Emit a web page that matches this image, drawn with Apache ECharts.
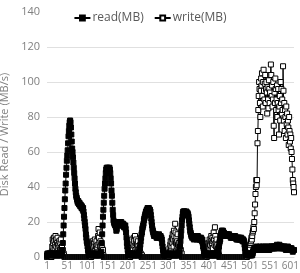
<!DOCTYPE html>
<html>
<head>
<meta charset="utf-8">
<script src="https://cdn.jsdelivr.net/npm/echarts@6/dist/echarts.min.js"></script>
<style>
	html, body {margin: 0; padding: 0; background: #fff;}
	#disk_io {width: 300px; height: 273px;}
</style>
</head>
<body>
<div id="disk_io"></div>
<script>
// disk throughput per sample
const readMB = [
	1,2,1,1,2,1,2,2,1,1, 2,1,1,2,2,1,1,2,1,1, 2,1,2,1,1,2,1,1,2,1, 1,2,1,2,1,1,2,
	2,4,8,13,18,23,28,33,38,42, 47,51,55,58,61,65,69,72,75,77, 78,
	77,74,70,66,62,60,57,54,51,48, 45,42,39,37,35,34,33,
	32,31,32,31,30,31,30,29,30,29, 28,29,28,27,28,26,24,
	22,20,18,16,13,11,9,8,6,4, 3,2,1,1,
	1,1,2,1,1,2,1,1,1,2, 1,1,2,1,1,1,2,1,1,2, 1,1,1,2,1,1,2,1,
	3,8,13,18,23,27,31,35,39,42, 45,48,50,
	51,50,51,50,51,50,49,51,50,48,
	45,42,38,35,31,27,24,21,
	20,19,20,18,19,17,15,16,18,19, 20,19,20,19,20,19,18,19,20,19, 18,19,18,19,18,17,18,17,18,16,
	14,11,8,6,4,2,1,1,
	1,2,1,1,2,1,1,1,2,1, 1,2,1,1,1,2,1,1,2,1, 1,1,2,1,
	2,3,5,7,9,11,13,14,16,17, 18,19,21,22,23,24,25,26,26,27, 27,
	28,27,27,28,27,26,27,26,
	24,22,20,18,16,15,14,13,
	12,13,12,12,13,12,11,12,12,11, 12,12,13,12,11,12,12,11,11,10,
	8,6,4,3,2,1,1,
	1,2,1,1,2,1,1,1,2,1, 1,2,1,1,1,2,1,1,2,1, 1,1,2,1,1,2,1,1,1,2, 1,1,2,1,1,2,
	3,6,9,12,15,18,21,23,25,
	26,26,25,26,26,25,24,25,26,25, 24,25,24,23,
	21,19,17,15,14,13,12,
	12,11,12,12,11,10,11,12,12,11, 12,11,10,11,11,12,11,10,11,10, 11,10,10,11,10,9,10,
	8,6,5,3,2,1,1,1,
	1,2,1,1,2,1,1,1,2,1, 1,2,1,1,1,2,1,1,2,1, 1,1,2,1,1,2,1,1,1,
	2,3,5,6,8,9,10,12,13,14, 15,
	15,14,15,14,14,13,13,12,
	13,12,13,12,12,13,12,12,12,13, 12,12,12,11,12,12,11,12,11,11, 12,11,11,11,12,11,11,10,11,11,
	10,11,11,10,11,10,11,10,10,11, 10,10,9,10,10,9,9,
	7,5,3,2,1,
	1,1,2,1,1,1,2,1,1,2, 1,1,1,2,1,2,
	3,4,4,5,4,5,5,4,5,6, 5,4,5,5,4,5,5,6,5,5, 4,5,5,5,6,5,4,5,5,5, 6,5,5,4,5,5,6,5,5,5,
	4,5,6,5,5,5,6,6,5,5, 6,5,5,6,5,6,6,5,6,7, 6,6,5,6,6,7,6,5,6,6, 5,6,6,5,5,6,5,5,6,5,
	5,4,5,5,4,5,6,5,5,4, 5,4,5,4,4,5,4,4,3,4, 4,4
]

const writeMB = [
	0,0,0,0,0,0,0,0,0,0, 0,0,
	3,6,10,8,5,11,9,4,7,12, 10,6,3,8,11,7,5,2,9,6, 4,8,10,5,3,6,2,4,1,2, 1,
	0,0,0,0,0,0,0,0,0,0, 0,0,0,0,0,0,0,0,0,0, 0,0,0,0,0,0,0,0,0,0, 0,0,0,0,0,0,0,0,0,0,
	0,0,0,0,0,0,0,0,0,0, 0,0,0,0,0,0,0,0,0,0, 0,0,0,0,0,0,0,
	2,4,7,9,5,3,8,6,10,4, 2,6,9,5,3,7,12,16,11,8, 14,6,9,4,7,3,5,2,4,1, 0,
	0,0,0,0,0,0,0,0,0,0, 0,0,0,0,0,0,0,0,0,0, 0,0,0,0,0,0,0,0,0,0, 0,0,0,0,0,0,0,0,0,0,
	0,0,0,0,0,0,0,0,0,0, 0,0,0,0,0,0,0,0,0,0, 0,0,0,0,0,
	3,6,4,8,10,5,2,7,11,9, 6,12,4,8,10,5,7,3,9,6, 4,2,5,3,1,2,1,0,1,0,
	0,0,0,0,0,0,0,0,0,0, 0,0,0,0,0,0,0,0,0,0, 0,0,0,0,0,0,0,0,0,0, 0,0,0,0,0,0,0,0,0,0,
	0,0,0,0,0,0,0,0,0,0, 0,0,0,0,0,0,0,0,0,0, 0,0,0,0,0,
	2,5,3,7,9,4,6,11,8,13, 10,6,15,12,9,19,14,8,11,6, 9,13,7,4,8,5,3,6,2,4, 1,2,0,
	0,0,0,0,0,0,0,0,0,0, 0,0,0,0,0,0,0,0,0,0, 0,0,0,0,0,0,0,0,0,0, 0,0,0,0,0,0,0,0,0,0,
	0,0,0,0,0,0,0,0,0,0, 0,0,0,0,0,0,0,0,0,0, 0,
	2,4,6,3,8,5,10,7,4,9, 12,6,8,11,5,9,14,10,7,17, 12,8,6,10,4,7,3,5,2,1, 0,
	0,0,0,0,0,0,0,0,0,0, 0,0,0,0,0,0,0,0,0,0, 0,0,0,0,0,0,0,0,0,0, 0,0,0,0,0,0,0,0,0,0,
	0,0,0,0,0,0,0,0,0,0, 0,0,0,0,0,0,0,0,0,0, 0,0,0,0,0,0,0,0,
	1,2,3,4,5,6,5,7,8,9, 11,10,12,14,15,17,16,20,25,30, 36,40,44,41,
	44,65,72,84,92,100,96,88,80,95, 102,
	98,105,92,86,100,107,95,90,99,104, 88,96,
	100,94,82,97,90,85,101,96,88,94, 104,110,
	104,92,98,86,90,100,75,68,94,88, 102,96,84,
	90,98,80,88,96,84,70,86,92,78, 100,88,
	96,82,90,84,109,95,78,88,72,84, 80,68,86,
	76,82,70,78,74,64,80,72,66,70, 62,68,
	60,56,50,44,42,40,37
]

const yTicks = {min: 0, max: 140, step: 20}
const labelStep = 50
const categories = readMB.map((_, i) => String(i + 1))

const chartDom = document.getElementById('disk_io')
const myChart = echarts.init(chartDom)

const font = "'Open Sans', 'Liberation Sans', sans-serif"
const gray = '#808080'

let option = {
	animation: false,
	textStyle: {fontFamily: font},
	legend: {
		top: 7,
		left: 'center',
		itemWidth: 16,
		itemHeight: 6,
		itemGap: 10,
		data: ['read(MB)', 'write(MB)'],
		textStyle: {color: '#595959', fontSize: 12, fontFamily: font, padding: [0, 0, 0, -3]}
	},
	grid: {left: 47, right: 6, top: 12, bottom: 16, containLabel: false, outerBoundsMode: 'none'},
	xAxis: {
		type: 'category',
		boundaryGap: false,
		data: categories,
		axisLine: {lineStyle: {color: '#d9d9d9'}},
		axisTick: {show: false},
		axisLabel: {interval: labelStep - 1, color: gray, fontSize: 10, margin: 4, fontFamily: font}
	},
	yAxis: {
		type: 'value',
		min: yTicks.min,
		max: yTicks.max,
		interval: yTicks.step,
		name: 'Disk Read / Write (MB/s)',
		nameLocation: 'middle',
		nameGap: 33,
		nameTextStyle: {color: gray, fontSize: 11, fontFamily: font},
		axisLine: {show: false},
		axisTick: {show: false},
		axisLabel: {color: gray, fontSize: 11, margin: 7, fontFamily: font},
		splitLine: {showMaxLine: false, lineStyle: {color: '#e0e0e0'}}
	},
	series: [
		{
			name: 'write(MB)',
			type: 'line',
			data: writeMB,
			symbol: 'rect',
			symbolSize: 5,
			showAllSymbol: true,
			lineStyle: {color: '#000', width: 1},
			itemStyle: {color: '#fff', borderColor: '#000', borderWidth: 1}
		},
		{
			name: 'read(MB)',
			type: 'line',
			data: readMB,
			symbol: 'rect',
			symbolSize: 5,
			showAllSymbol: true,
			lineStyle: {color: '#000', width: 1},
			itemStyle: {color: '#000', borderColor: '#000', borderWidth: 1}
		}
	]
}

option && myChart.setOption(option)
</script>
</body>
</html>
